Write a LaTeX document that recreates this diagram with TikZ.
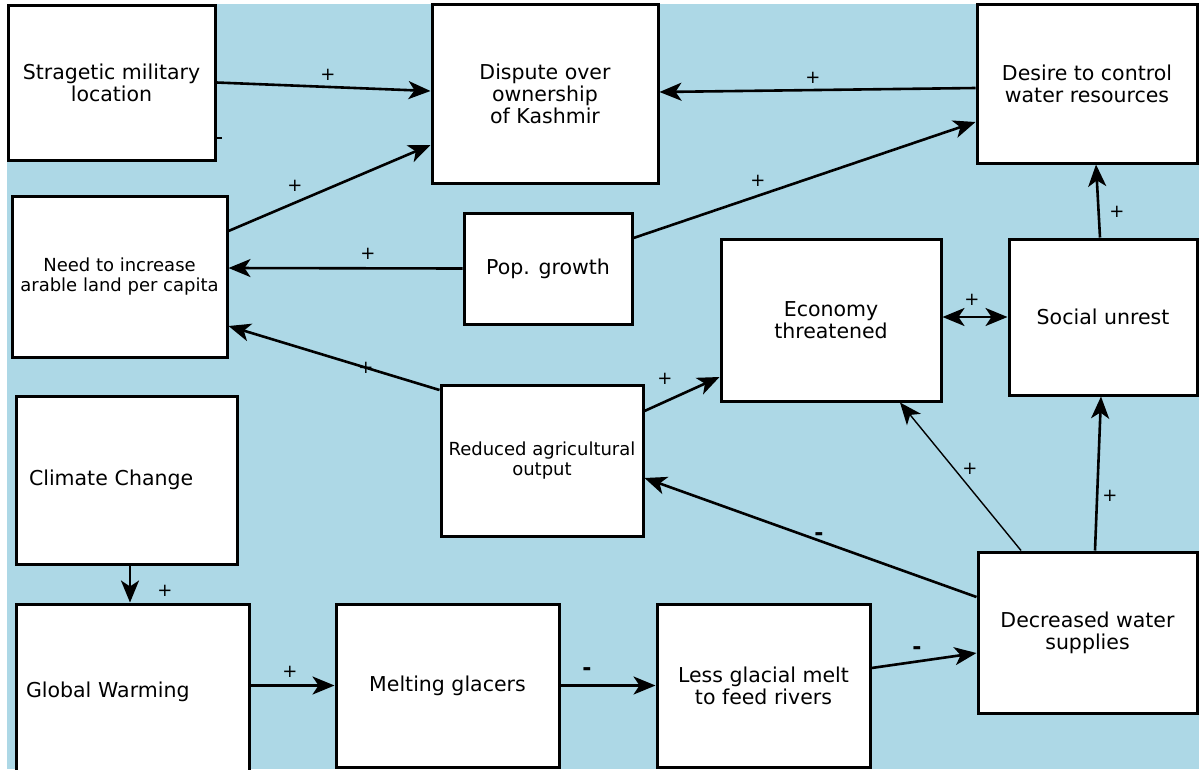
\documentclass[tikz,border=0pt]{standalone}
\usepackage{fontspec}
\setmainfont{DejaVu Sans}
\usetikzlibrary{arrows.meta}
\usetikzlibrary{calc}
\definecolor{sky}{HTML}{ADD8E6}
\tikzset{
  factor/.style={draw, line width=3pt, fill=white, inner sep=0pt, align=center,
    font=\fontsize{20.5}{22}\selectfont},
  smallfactor/.style={factor, font=\fontsize{18}{19.5}\selectfont},
  tip/.tip={Stealth[length=22pt,width=18pt,inset=6pt]},
  link/.style={line width=2.6pt, -tip},
  thinlink/.style={link, line width=1.4pt},
  plus/.style={inner sep=0pt, font=\fontsize{18}{18}\selectfont},
  minus/.style={inner sep=0pt, font=\fontsize{22}{22}\selectfont\bfseries},
}
% [options]{name}{x}{y}{width}{height}{text}
\newcommand{\cldbox}[7][]{%
\node[factor, minimum width=#5pt, minimum height=#6pt, #1] (#2) at (#3,#4) {#7};
}

\begin{document}
\begin{tikzpicture}[x=1pt, y=-1pt]
\clip (0,0) rectangle (1199,769);
\fill[white] (0,0) rectangle (1199,769);
\fill[sky] (7,4) rectangle (1199,769);
% boxes
\cldbox{strat}{111.5}{82.5}{207}{155}{Stragetic military\\location}
\cldbox{dispute}{545}{93.5}{226}{179}{Dispute over\\ownership\\of Kashmir}
\cldbox{desire}{1087}{83.5}{220}{159}{Desire to control\\water resources}
\cldbox[smallfactor]{need}{119.5}{276.5}{215}{161}{Need to increase\\arable land per capita}
\cldbox{pop}{548}{268.5}{168}{111}{Pop. growth}
\cldbox{econ}{831}{320}{220}{162}{Economy\\threatened}
\cldbox{unrest}{1103}{317}{188}{156}{Social unrest}
\cldbox[smallfactor]{reduced}{542}{460.5}{202}{151}{Reduced agricultural\\output}
\cldbox[text width=195pt, inner xsep=13pt, align=left]{climate}{126.5}{480}{221}{168}{Climate Change}
\cldbox[text width=213pt, inner xsep=10pt, align=left]{warming}{132.5}{692}{233}{176}{Global Warming}
\cldbox{melting}{447.5}{685.5}{223}{163}{Melting glacers}
\cldbox{lessmelt}{763.5}{685.5}{213}{163}{Less glacial melt\\to feed rivers}
\cldbox{water}{1087.5}{632.5}{219}{161}{Decreased water\\supplies}
% stray tick
\draw[line width=2pt] ([yshift=-55.5pt]strat.east) -- ++(5,0);
% links
\draw[link] (strat.east) -- ([yshift=2.5pt]dispute.west);
\draw[link] ([yshift=-4.5pt]desire.west) -- ([yshift=1.5pt]dispute.east);
\draw[link] ([yshift=45.5pt]need.east) -- ([yshift=-51.5pt]dispute.west);
\draw[link] (pop.west) -- ([yshift=8.5pt]need.east);
\draw[link] ([yshift=30.5pt]pop.east) -- ([yshift=-38.5pt]desire.west);
\draw[link] ([yshift=70.5pt]reduced.west) -- ([yshift=-49.5pt]need.east);
\draw[link] ([yshift=49.5pt]reduced.east) -- ([yshift=-57pt]econ.west);
\draw[link, tip-tip] (unrest.west -| econ.east) -- (unrest.west);
\draw[link] ([xshift=-3pt]unrest.north) -- ([xshift=9pt]desire.south);
\draw[thinlink] ([xshift=-66.5pt]water.north) -- ([xshift=69pt]econ.south);
\draw[link] ([xshift=7.5pt]water.north) -- ([xshift=-2pt]unrest.south);
\draw[link] ([yshift=35.5pt]water.west) -- ([yshift=-17.5pt]reduced.east);
\draw[link] ([xshift=3.5pt]climate.south) -- ([xshift=-2.5pt]warming.north);
\draw[link] (warming.east |- melting.west) -- (melting.west);
\draw[link] (melting.east) -- (lessmelt.west);
\draw[link] ([yshift=17.5pt]lessmelt.east) -- ([yshift=-20.5pt]water.west);
% polarity signs
\node[plus] (s1) at (328,75) {+};
\node[plus] (s2) at (813,78) {+};
\node[plus] (s3) at (295,186) {+};
\node[plus] (s4) at (368,254) {+};
\node[plus] (s5) at (758,181) {+};
\node[plus] (s6) at (366,368) {+};
\node[plus] (s7) at (665,379) {+};
\node[plus] (s8) at (972,300) {+};
\node[plus] (s9) at (1117,212) {+};
\node[plus] (s10) at (970,469) {+};
\node[plus] (s11) at (1110,496) {+};
\node[minus] (s12) at (819,537) {-};
\node[plus] (s13) at (165,591) {+};
\node[plus] (s14) at (290,672) {+};
\node[minus] (s15) at (587,672) {-};
\node[minus] (s16) at (917,651) {-};
\end{tikzpicture}
\end{document}
